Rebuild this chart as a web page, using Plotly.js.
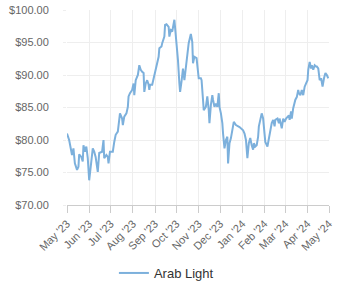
<!DOCTYPE html>
<html>
<head>
<meta charset="utf-8">
<script src="https://cdn.plot.ly/plotly-3.0.1.min.js"></script>
<style>html,body{margin:0;padding:0;background:#fff;}#chart{width:341px;height:300px;}</style>
</head>
<body>
<div id="chart"></div>
<script>
const seriesName = "Arab Light";
const dates = [
"2023-05-01","2023-05-04","2023-05-08","2023-05-10","2023-05-12","2023-05-15","2023-05-17","2023-05-18","2023-05-21","2023-05-23",
"2023-05-24","2023-05-26","2023-05-28","2023-05-30","2023-06-01","2023-06-04","2023-06-06","2023-06-08","2023-06-10","2023-06-13",
"2023-06-15","2023-06-19","2023-06-21","2023-06-22","2023-06-25","2023-06-27","2023-06-28","2023-06-30","2023-07-04","2023-07-06",
"2023-07-08","2023-07-11","2023-07-13","2023-07-14","2023-07-17","2023-07-18","2023-07-20","2023-07-23","2023-07-25","2023-07-26",
"2023-07-28","2023-07-31","2023-08-02","2023-08-03","2023-08-05","2023-08-07","2023-08-08","2023-08-10","2023-08-12","2023-08-14",
"2023-08-16","2023-08-17","2023-08-19","2023-08-21","2023-08-23","2023-08-24","2023-08-25","2023-08-28","2023-08-30","2023-09-01",
"2023-09-04","2023-09-06","2023-09-07","2023-09-10","2023-09-11","2023-09-14","2023-09-15","2023-09-17","2023-09-20","2023-09-21",
"2023-09-23","2023-09-25","2023-09-28","2023-09-29","2023-09-30","2023-10-02","2023-10-03","2023-10-05","2023-10-06","2023-10-08",
"2023-10-10","2023-10-12","2023-10-14","2023-10-16","2023-10-18","2023-10-21","2023-10-23","2023-10-24","2023-10-26","2023-10-29",
"2023-10-30","2023-11-01","2023-11-04","2023-11-05","2023-11-07","2023-11-08","2023-11-11","2023-11-13","2023-11-15","2023-11-16",
"2023-11-18","2023-11-20","2023-11-21","2023-11-23","2023-11-25","2023-11-27","2023-11-29","2023-11-30","2023-12-02","2023-12-04",
"2023-12-05","2023-12-07","2023-12-09","2023-12-11","2023-12-12","2023-12-14","2023-12-16","2023-12-18","2023-12-20","2023-12-23",
"2023-12-25","2023-12-28","2024-01-02","2024-01-04","2024-01-06","2024-01-08","2024-01-10","2024-01-12","2024-01-14","2024-01-16",
"2024-01-17","2024-01-19","2024-01-21","2024-01-23","2024-01-24","2024-01-26","2024-01-28","2024-01-30","2024-02-01","2024-02-02",
"2024-02-05","2024-02-07","2024-02-09","2024-02-11","2024-02-13","2024-02-15","2024-02-16","2024-02-19","2024-02-21","2024-02-22",
"2024-02-24","2024-02-25","2024-02-27","2024-02-29","2024-03-02","2024-03-04","2024-03-06","2024-03-07","2024-03-09","2024-03-10",
"2024-03-12","2024-03-15","2024-03-17","2024-03-19","2024-03-20","2024-03-22","2024-03-24","2024-03-26","2024-03-28","2024-03-30",
"2024-04-01","2024-04-02","2024-04-04","2024-04-06","2024-04-07","2024-04-09","2024-04-11","2024-04-13","2024-04-14","2024-04-16",
"2024-04-18","2024-04-20","2024-04-22","2024-04-24","2024-04-26","2024-04-28","2024-04-30"
];
const prices = [
81.0,80.0,77.7,78.7,76.4,75.4,75.9,77.8,77.4,76.7,
79.2,78.2,79.0,77.2,73.8,77.4,78.7,78.2,77.4,75.1,
78.0,78.2,80.0,77.2,77.7,77.4,76.4,78.2,78.2,79.7,
80.8,81.3,82.8,84.1,83.3,82.3,83.6,84.1,85.1,86.7,
87.2,87.7,88.7,86.9,89.2,89.7,90.0,91.5,90.8,90.5,
90.3,87.4,88.7,89.2,88.5,87.7,88.5,88.5,89.5,90.5,
91.8,92.8,94.1,94.4,94.9,95.9,97.7,97.8,97.4,95.9,
96.9,96.7,98.5,97.4,95.4,93.8,92.3,88.7,87.4,89.0,
91.0,89.2,91.3,93.3,94.9,96.3,95.1,91.8,92.8,92.6,
91.3,89.5,89.5,89.2,86.2,84.6,85.1,86.7,84.6,82.6,
85.4,86.9,86.2,85.1,85.6,85.1,87.2,85.1,84.1,82.6,
81.0,78.7,80.0,80.5,76.4,79.5,80.3,81.5,82.8,82.3,
82.2,82.0,81.5,81.0,80.0,77.2,79.5,80.3,79.2,78.5,
79.5,79.0,79.2,80.5,82.1,83.3,84.1,83.3,81.5,79.7,
79.0,80.3,81.8,82.6,83.1,82.1,83.1,83.3,82.6,83.3,
82.3,81.8,83.3,82.8,83.3,83.6,83.8,83.1,84.4,83.3,
84.9,86.2,86.6,87.7,87.2,86.9,87.7,86.9,88.2,88.7,
89.2,90.8,92.0,91.0,91.5,90.8,91.5,91.3,91.3,91.0,
89.2,89.5,88.2,89.5,90.3,90.0,89.5
];
const yTicks = [70,75,80,85,90,95,100];
const yTickLabels = ["$70.00","$75.00","$80.00","$85.00","$90.00","$95.00","$100.00"];
const xStart = "2023-05-01", xEnd = "2024-05-01";

const trace = {
  x: dates, y: prices, type: "scatter", mode: "lines", name: seriesName,
  line: {color: "#7cb0dc", width: 2},
  hoverinfo: "skip"
};
const layout = {
  width: 341, height: 300,
  margin: {l: 67, r: 12, t: 10, b: 95},
  paper_bgcolor: "#fff", plot_bgcolor: "#fff",
  font: {family: "'Liberation Sans', Arial, sans-serif", size: 11, color: "#666"},
  showlegend: true,
  legend: {orientation: "h", xref: "container", yref: "container", x: 0.488, xanchor: "center", y: 0.09, yanchor: "middle",
           font: {size: 13, color: "#333"}},
  xaxis: {type: "date", range: [xStart, xEnd], tick0: xStart, dtick: "M1", tickformat: "%b '%y", tickangle: -45,
          showgrid: true, gridcolor: "#eeeeee", showline: true, linecolor: "#cccccc", linewidth: 1,
          ticks: "outside", ticklen: 7, tickcolor: "#cccccc", zeroline: false, fixedrange: true},
  yaxis: {range: [70, 100], tickvals: yTicks, ticktext: yTickLabels, showgrid: true, gridcolor: "#eeeeee",
          showline: false, zeroline: false, ticks: "outside", ticklen: 3, tickcolor: "#eeeeee",
          ticklabelstandoff: 12, fixedrange: true}
};
Plotly.newPlot("chart", [trace], layout, {displayModeBar: false, staticPlot: true});
</script>
</body>
</html>
